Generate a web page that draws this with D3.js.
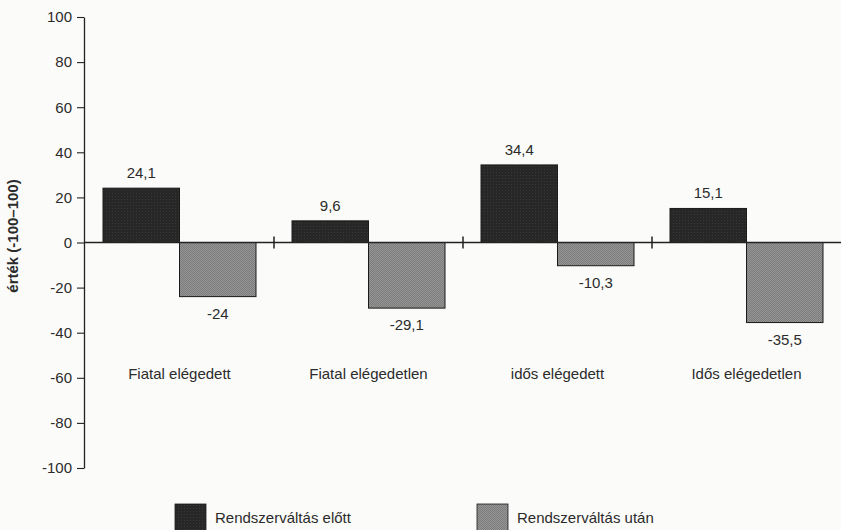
<!DOCTYPE html>
<html><head><meta charset="utf-8">
<script src="https://cdn.jsdelivr.net/npm/d3@7"></script>
<style>
html,body{margin:0;padding:0;background:#fbfbfa;}
svg{display:block;}
text{font-family:"Liberation Sans",Arial,Helvetica,sans-serif;fill:#2b2b2b;}
</style></head>
<body>
<script>
const categories = ["Fiatal elégedett","Fiatal elégedetlen","idős elégedett","Idős elégedetlen"];
const seriesNames = ["Rendszerváltás előtt","Rendszerváltás után"];
const before = [24.1, 9.6, 34.4, 15.1];
const after = [-24, -29.1, -10.3, -35.5];
const beforeLabels = ["24,1","9,6","34,4","15,1"];
const afterLabels = ["-24","-29,1","-10,3","-35,5"];
const yTicks = [100,80,60,40,20,0,-20,-40,-60,-80,-100];
const yTitle = "érték (-100–100)";

const W = 841, H = 530;
const svg = d3.select("body").append("svg").attr("width",W).attr("height",H);

const defs = svg.append("defs");
const pd = defs.append("pattern").attr("id","pDark").attr("width",3).attr("height",3).attr("patternUnits","userSpaceOnUse");
pd.append("rect").attr("width",3).attr("height",3).attr("fill","#272727");
pd.append("rect").attr("x",1).attr("y",1).attr("width",1).attr("height",1).attr("fill","#383838");
const pl = defs.append("pattern").attr("id","pLight").attr("width",2).attr("height",2).attr("patternUnits","userSpaceOnUse");
pl.append("rect").attr("width",2).attr("height",2).attr("fill","#959595");
pl.append("rect").attr("x",0).attr("y",0).attr("width",1).attr("height",1).attr("fill","#7c7c7c");
pl.append("rect").attr("x",1).attr("y",1).attr("width",1).attr("height",1).attr("fill","#7c7c7c");

const x0 = 84, x1 = 840;
const y = d3.scaleLinear().domain([-100,100]).range([468,17]);
const xg = d3.scaleBand().domain(categories).range([x0,x1]).padding(0);
const xb = d3.scaleBand().domain(seriesNames).range([19, 172]).padding(0);

// y axis
const yAxis = d3.axisLeft(y).tickValues(yTicks).tickSize(7).tickSizeOuter(0).tickPadding(5).tickFormat(d=>d);
const ga = svg.append("g").attr("transform",`translate(${x0},0)`).call(yAxis);
ga.select(".domain").attr("stroke","#222").attr("stroke-width",1.3);
ga.selectAll(".tick line").attr("stroke","#222").attr("stroke-width",1.1);
ga.selectAll(".tick text").attr("font-size",15).attr("fill","#2b2b2b").attr("font-family","Liberation Sans, Arial, sans-serif");

svg.append("text").attr("transform",`translate(18,${236}) rotate(-90)`)
  .attr("text-anchor","middle").attr("font-size",15).attr("font-weight","bold").text(yTitle);

// bars
const groups = svg.append("g").selectAll("g").data(categories).join("g")
  .attr("transform",d=>`translate(${xg(d)},0)`);
groups.each(function(c,i){
  const g = d3.select(this);
  const vals = [before[i], after[i]];
  const labs = [beforeLabels[i], afterLabels[i]];
  vals.forEach((v,j)=>{
    const s = seriesNames[j];
    g.append("rect").attr("x",xb(s)).attr("width",xb.bandwidth())
      .attr("y",y(Math.max(0,v))).attr("height",Math.abs(y(v)-y(0)))
      .attr("fill", j===0 ? "url(#pDark)" : "url(#pLight)")
      .attr("stroke","#1a1a1a").attr("stroke-width",1);
    g.append("text").attr("x",xb(s)+xb.bandwidth()/2)
      .attr("y", v>=0 ? y(v)-10 : y(v)+22)
      .attr("text-anchor","middle").attr("font-size",15).text(labs[j]);
  });
  g.append("text").attr("x",xb.range()[0] + (xb.range()[1]-xb.range()[0])/2).attr("y",379)
    .attr("text-anchor","middle").attr("font-size",15).text(c);
});

// zero line
svg.append("line").attr("x1",x0).attr("x2",W).attr("y1",y(0)).attr("y2",y(0))
  .attr("stroke","#222").attr("stroke-width",1.3);
// group separators
categories.slice(1).forEach(c=>{
  const xx = xg(c) + 1;
  svg.append("line").attr("x1",xx).attr("x2",xx).attr("y1",y(0)-6).attr("y2",y(0)+6)
    .attr("stroke","#222").attr("stroke-width",1.5);
});

// legend
const legX = [175, 477];
seriesNames.forEach((s,j)=>{
  svg.append("rect").attr("x",legX[j]).attr("y",504).attr("width",31).attr("height",30)
    .attr("fill", j===0 ? "url(#pDark)" : "url(#pLight)").attr("stroke","#1a1a1a").attr("stroke-width",0.8);
  svg.append("text").attr("x",legX[j]+40).attr("y",523).attr("font-size",15).text(s);
});
</script>
</body></html>
